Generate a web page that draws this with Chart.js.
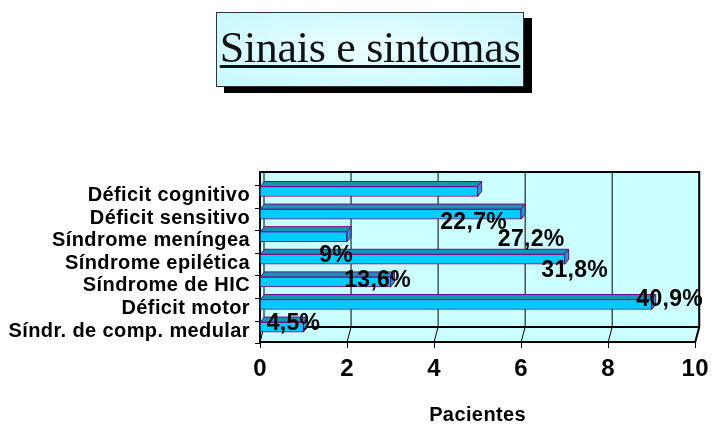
<!DOCTYPE html>
<html>
<head>
<meta charset="utf-8">
<script src="https://cdn.jsdelivr.net/npm/chart.js@4.4.1/dist/chart.umd.min.js"></script>
<style>
  html, body { margin: 0; padding: 0; background: #fff; }
  #wrap { position: relative; width: 716px; height: 424px; }
  canvas { position: absolute; left: 0; top: 0; }
  #titulo {
    position: absolute; left: 216px; top: 12px; width: 308px; height: 75px;
    box-sizing: border-box; border: 1px solid #333;
    background: radial-gradient(ellipse at center, #ecffff 0%, #c6f7ff 100%);
    box-shadow: 8px 6px 0 #000;
    font-family: 'Liberation Serif', 'Times New Roman', serif;
    font-size: 44px; line-height: 44px; padding-top: 13px; letter-spacing: -0.3px;
    white-space: nowrap; text-align: center; color: #111;
  }
  #titulo span { text-decoration: underline; text-decoration-thickness: 3px; text-underline-offset: 3px; }
</style>
</head>
<body>
<div id="wrap">
  <canvas id="grafico" width="716" height="424"></canvas>
  <div id="titulo"><span>Sinais e sintomas</span></div>
</div>
<script>
const categorias = ['Déficit cognitivo', 'Déficit sensitivo', 'Síndrome meníngea', 'Síndrome epilética', 'Síndrome de HIC', 'Déficit motor', 'Síndr. de comp. medular'];
const pacientes = [5, 6, 2, 7, 3, 9, 1];
const percentuais = ['22,7%', '27,2%', '9%', '31,8%', '13,6%', '40,9%', '4,5%'];
const ticksX = [0, 2, 4, 6, 8, 10];

const FONTE = "'Liberation Sans', Arial, sans-serif";
const ESPACO = '0.4px';

// parede do fundo em "3D" (estilo Excel)
const parede3d = {
  id: 'parede3d',
  beforeLayout(chart) {
    chart.ctx.letterSpacing = ESPACO;
  },
  beforeDraw(chart) {
    const { ctx, chartArea: a, scales: { x } } = chart;
    const px = 4, py = 15;
    ctx.save();
    ctx.fillStyle = '#ccffff';
    ctx.beginPath();
    ctx.moveTo(a.left, a.top);
    ctx.lineTo(a.right + px, a.top);
    ctx.lineTo(a.right + px, a.bottom - py);
    ctx.lineTo(a.right, a.bottom);
    ctx.lineTo(a.left, a.bottom);
    ctx.closePath();
    ctx.fill();

    ctx.strokeStyle = '#000';
    ctx.lineWidth = 1;
    ticksX.forEach((v) => {
      const fx = x.getPixelForValue(v);
      ctx.beginPath();
      ctx.moveTo(fx + px, a.top);
      ctx.lineTo(fx + px, a.bottom - py);
      ctx.lineTo(fx, a.bottom);
      ctx.stroke();
    });

    ctx.lineWidth = 2;
    ctx.beginPath();
    ctx.moveTo(a.left, a.top);
    ctx.lineTo(a.right + px, a.top);
    ctx.lineTo(a.right + px, a.bottom - py);
    ctx.lineTo(a.right, a.bottom);
    ctx.stroke();
    ctx.beginPath();
    ctx.moveTo(a.left + px, a.bottom - py);
    ctx.lineTo(a.right + px, a.bottom - py);
    ctx.stroke();
    ctx.restore();
    ctx.letterSpacing = ESPACO;
  },
  afterDatasetsDraw(chart, args, opts) {
    const { ctx, scales: { y } } = chart;
    const meta = chart.getDatasetMeta(0);
    const dx = 4, dy = 5;
    ctx.save();
    ctx.strokeStyle = '#800080';
    ctx.lineWidth = 1;
    meta.data.forEach((bar) => {
      const { x, y: cy, base, height } = bar.getProps(['x', 'y', 'base', 'height'], true);
      const top = cy - height / 2, bottom = cy + height / 2;
      ctx.fillStyle = '#1097b6';
      ctx.beginPath();
      ctx.moveTo(base, top);
      ctx.lineTo(x, top);
      ctx.lineTo(x + dx, top - dy);
      ctx.lineTo(base + dx, top - dy);
      ctx.closePath();
      ctx.fill();
      ctx.stroke();
      ctx.fillStyle = '#08a8d0';
      ctx.beginPath();
      ctx.moveTo(x, top);
      ctx.lineTo(x + dx, top - dy);
      ctx.lineTo(x + dx, bottom - dy);
      ctx.lineTo(x, bottom);
      ctx.closePath();
      ctx.fill();
      ctx.stroke();
    });

    // rótulos de porcentagem
    ctx.fillStyle = '#000';
    ctx.font = 'bold 23px ' + FONTE;
    ctx.letterSpacing = '0.3px';
    ctx.textAlign = 'center';
    ctx.textBaseline = 'middle';
    meta.data.forEach((bar, i) => {
      const d = opts.deslocamentos[i] || [0, 0];
      ctx.fillText(percentuais[i], bar.x + d[0], bar.y + d[1]);
    });

    // marcas do eixo das categorias
    ctx.strokeStyle = '#000';
    ctx.lineWidth = 1;
    for (let i = 0; i <= categorias.length; i++) {
      const ty = Math.round(y.getPixelForValue(i - 0.29)) + 0.5;
      ctx.beginPath();
      ctx.moveTo(y.right - 5, ty);
      ctx.lineTo(y.right, ty);
      ctx.stroke();
    }
    ctx.restore();
  },
};

const ctx = document.getElementById('grafico');
new Chart(ctx, {
  type: 'bar',
  data: {
    datasets: [{
      label: 'Pacientes',
      data: pacientes.map((v, i) => ({ x: v, y: i })),
      backgroundColor: '#00ccff',
      borderColor: '#800080',
      borderWidth: 1,
      barThickness: 10,
    }],
  },
  options: {
    indexAxis: 'y',
    responsive: false,
    animation: false,
    devicePixelRatio: 1,
    layout: { padding: { top: 172, right: 16, left: 0, bottom: 0 } },
    plugins: {
      legend: { display: false },
      tooltip: { enabled: false },
      parede3d: {
        deslocamentos: [[-4, 31.5], [10, 26], [-11, 19.3], [10, 11], [-13, -1], [18, -4.5], [-10, -3]],
      },
    },
    scales: {
      x: {
        type: 'linear',
        min: 0,
        max: 10,
        afterBuildTicks: (s) => { s.ticks = ticksX.map((v) => ({ value: v })); },
        afterFit: (s) => { s.height = 82; },
        grid: { display: true, drawOnChartArea: false, drawTicks: true, tickLength: 6, color: '#000' },
        border: { display: true, color: '#000', width: 2 },
        ticks: { color: '#000', padding: 7, font: { family: FONTE, size: 24, weight: 'bold' } },
        title: {
          display: true,
          text: 'Pacientes',
          color: '#000',
          padding: 0,
          font: { family: FONTE, size: 20, weight: 'bold', lineHeight: 0.9 },
        },
      },
      y: {
        type: 'linear',
        reverse: true,
        offset: false,
        min: -0.863,
        max: 6.66,
        afterBuildTicks: (s) => { s.ticks = categorias.map((_, i) => ({ value: i })); },
        afterFit: (s) => { s.width = 260; },
        grid: { display: false, drawTicks: false, offset: false },
        border: { display: true, color: '#000', width: 2 },
        ticks: {
          color: '#000',
          padding: 10,
          labelOffset: 4,
          font: { family: FONTE, size: 20, weight: 'bold' },
          callback: (v) => categorias[v] ?? '',
        },
      },
    },
  },
  plugins: [parede3d],
});
</script>
</body>
</html>
